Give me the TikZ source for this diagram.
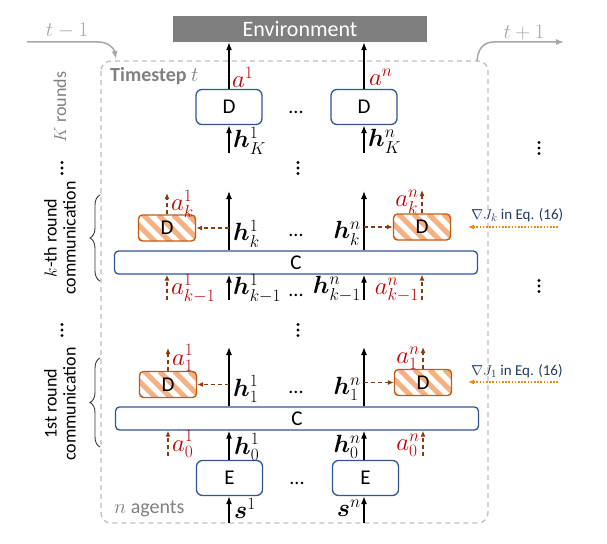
\documentclass[tikz,border=0pt]{standalone}
\usepackage{fontspec}
\setmainfont{Carlito}
\usepackage{amsmath,bm}
\usetikzlibrary{arrows.meta,decorations.pathreplacing}
\definecolor{boxblue}{HTML}{2F5597}
\definecolor{envgray}{HTML}{7F7F7F}
\definecolor{framegray}{HTML}{BFBFBF}
\definecolor{tgray}{HTML}{A6A6A6}
\definecolor{txtgray}{HTML}{808080}
\definecolor{brn}{HTML}{843C0C}
\definecolor{hbord}{HTML}{C55A11}
\definecolor{stripe}{HTML}{F4B183}
\definecolor{lblred}{HTML}{C00000}
\definecolor{orng}{HTML}{E38D1B}
\definecolor{eqblue}{HTML}{203864}
\begin{document}
\begin{tikzpicture}[x=1pt,y=-1pt,
  blk/.style={draw=boxblue, line width=1.3pt, rounded corners=6pt, minimum width=66pt, minimum height=35pt, inner sep=0pt, font=\fontsize{21}{24}\selectfont},
  hbox/.style={draw=hbord, line width=1.4pt, rounded corners=4pt, minimum width=57pt, minimum height=26pt, inner sep=0pt, font=\fontsize{21}{24}\selectfont,
    path picture={\foreach \i in {-40,-25,...,70} \draw[stripe, line width=5pt] ([xshift=\i pt]path picture bounding box.north west) -- ++(32,32);}},
  cbox/.style={draw=boxblue, line width=1.3pt, rounded corners=4pt, minimum width=363pt, minimum height=23pt, inner sep=0pt, font=\fontsize{21}{24}\selectfont},
  envbox/.style={fill=envgray, minimum width=254pt, minimum height=26pt, inner sep=0pt, text=white, font=\fontsize{22}{24}\selectfont},
  arr/.style={-{Latex[length=8pt,width=6pt]}, line width=1.3pt},
  darr/.style={-{Latex[length=6pt,width=5pt]}, line width=1.3pt, brn, dash pattern=on 4pt off 3pt},
  garr/.style={-{Latex[length=8pt,width=6pt]}, line width=1.5pt, tgray},
  oarr/.style={-{Latex[length=6pt,width=5pt]}, line width=1.6pt, orng, dash pattern=on 1.6pt off 1.6pt},
  lab/.style={inner sep=0pt, font=\fontsize{24}{26}\selectfont},
  rlab/.style={lab, text=lblred},
  dts/.style={inner sep=0pt, font=\fontsize{20}{24}\selectfont, anchor=base},
  vdot/.style={fill=black, inner sep=0pt, minimum size=3.2pt, circle},
  eqlab/.style={inner sep=0pt, text=eqblue, font=\fontsize{15}{18}\selectfont, anchor=west},
  rot/.style={rotate=90, align=center, inner sep=0pt, font=\fontsize{18}{19}\selectfont},
  brc/.style={decorate, decoration={brace, amplitude=10pt}, line width=0.9pt, black!80}
]
\useasboundingbox (0,0) rectangle (607,543);

% frame and time arrows
\draw[framegray, line width=1.3pt, dash pattern=on 5pt off 4pt, rounded corners=10pt] (101,61) rectangle (488,523);
\coordinate (tm0) at (27,42);
\coordinate (tm1) at (98,42);
\coordinate (tm2) at (116,59);
\draw[garr] (tm0) -- (tm1) .. controls (108,42) and (114,48) .. (tm2);
\node[text=tgray, font=\fontsize{20}{22}\selectfont, inner sep=0pt] (tmlab) at (67,31) {$t-1$};
\coordinate (tp0) at (477,61);
\coordinate (tp1) at (494,42);
\coordinate (tp2) at (564,42);
\draw[garr] (tp0) .. controls (478,48) and (484,42) .. (tp1) -- (tp2);
\node[text=tgray, font=\fontsize{20}{22}\selectfont, inner sep=0pt] (tplab) at (524,32) {$t+1$};
\node[text=txtgray, font=\fontsize{20}{22}\selectfont\bfseries, inner sep=0pt, anchor=west] (ts) at (110,76) {Timestep \mdseries$t$};
\node[text=txtgray, font=\fontsize{20}{22}\selectfont, inner sep=0pt, anchor=west] (nag) at (114,509) {$n$ agents};
\node[rot, text=txtgray] (kr) at (60,107) {$K$ rounds};

% environment and top decoders
\node[envbox] (env) at (300,29) {Environment};
\node[blk] (D1) at (229,107) {D};
\node[blk] (Dn) at (364,107) {D};
\draw[arr] (D1.north) -- (D1.north |- env.south);
\draw[arr] (Dn.north) -- (Dn.north |- env.south);
\node[rlab, anchor=west] (a1) at (232,77) {$a^1$};
\node[rlab, anchor=west] (an) at (369,77) {$a^n$};
\coordinate (hK1) at (229,153);
\coordinate (hKn) at (364,153);
\draw[arr] (hK1) -- (D1.south);
\draw[arr] (hKn) -- (Dn.south);
\node[lab, anchor=west] (lhK1) at (233,141) {$\bm{h}_K^1$};
\node[lab, anchor=west] (lhKn) at (368,141) {$\bm{h}_K^n$};
\node[dts] (d1) at (296,113) {...};

% vertical dots
\foreach \nm/\px/\py in {v1/62/168, v2/298/168, v3/539/148, v4/539/286, v5/62/330, v6/298/330} {
  \node[vdot] (\nm a) at (\px,\py-5.5) {};
  \node[vdot] (\nm b) at (\px,\py) {};
  \node[vdot] (\nm c) at (\px,\py+5.5) {};
}

% k-th round
\node[hbox] (Dk1) at (167,228) {D};
\node[hbox] (Dkn) at (422,227) {D};
\node[cbox] (Ck) at (296,262.5) {C};
\coordinate (k1top) at (229,191);
\coordinate (kntop) at (364,191);
\draw[arr] (Ck.north -| k1top) -- (k1top);
\draw[arr] (Ck.north -| kntop) -- (kntop);
\coordinate (k1mid) at (229,228);
\coordinate (knmid) at (364,227);
\draw[darr] (k1mid) -- (Dk1.east);
\draw[darr] (knmid) -- (Dkn.west);
\coordinate (ak1top) at (167,193);
\coordinate (akntop) at (422,190);
\draw[darr] (Dk1.north) -- (ak1top);
\draw[darr] (Dkn.north) -- (akntop);
\node[rlab, anchor=west] (lak1) at (171,204) {$a_k^1$};
\node[rlab, anchor=east] (lakn) at (419,202) {$a_k^n$};
\node[lab, anchor=west] (lhk1) at (233,234) {$\bm{h}_k^1$};
\node[lab, anchor=east] (lhkn) at (361,233) {$\bm{h}_k^n$};
\node[dts] (d2) at (296,236) {...};
\coordinate (bk1) at (229,300);
\coordinate (bkn) at (364,300);
\coordinate (bak1) at (167,300);
\coordinate (bakn) at (422,300);
\draw[arr] (bk1) -- (bk1 |- Ck.south);
\draw[arr] (bkn) -- (bkn |- Ck.south);
\draw[darr] (bak1) -- (bak1 |- Ck.south);
\draw[darr] (bakn) -- (bakn |- Ck.south);
\node[rlab, anchor=west] (lakm1) at (171,289) {$a_{k-1}^1$};
\node[lab, anchor=west] (lhkm1) at (233,289) {$\bm{h}_{k-1}^1$};
\node[dts] (d3) at (296,296) {...};
\node[lab, anchor=east] (lhkmn) at (361,289) {$\bm{h}_{k-1}^n$};
\node[rlab, anchor=east] (lakmn) at (419,290) {$a_{k-1}^n$};
\coordinate (gk0) at (558,227);
\coordinate (gk1) at (468,227);
\draw[oarr] (gk0) -- (gk1);
\node[eqlab] (eqk) at (471,215) {$\nabla J_k$ in Eq. (16)};
\draw[brc] (100,281) -- (100,195);
\node[rot] (krc) at (60,238) {$k$-th round\\communication};

% 1st round
\node[hbox] (Dl1) at (168,384.5) {D};
\node[hbox] (Dln) at (423,382.5) {D};
\node[cbox] (Cl) at (297,418.5) {C};
\coordinate (l1top) at (229,347);
\coordinate (lntop) at (364,347);
\draw[arr] (Cl.north -| l1top) -- (l1top);
\draw[arr] (Cl.north -| lntop) -- (lntop);
\coordinate (l1mid) at (229,384.5);
\coordinate (lnmid) at (364,382.5);
\draw[darr] (l1mid) -- (Dl1.east);
\draw[darr] (lnmid) -- (Dln.west);
\coordinate (al1top) at (168,348);
\coordinate (alntop) at (423,347);
\draw[darr] (Dl1.north) -- (al1top);
\draw[darr] (Dln.north) -- (alntop);
\node[rlab, anchor=west] (lal1) at (172,358) {$a_1^1$};
\node[rlab, anchor=east] (laln) at (420,358) {$a_1^n$};
\node[lab, anchor=west] (lhl1) at (233,389) {$\bm{h}_1^1$};
\node[lab, anchor=east] (lhln) at (361,389) {$\bm{h}_1^n$};
\node[dts] (d4) at (296,393) {...};
\node[blk] (E1) at (229.5,478) {E};
\node[blk] (En) at (365.5,478) {E};
\draw[arr] (E1.north -| l1top) -- (Cl.south -| l1top);
\draw[arr] (En.north -| lntop) -- (Cl.south -| lntop);
\coordinate (a01) at (168,456);
\coordinate (a0n) at (423,456);
\draw[darr] (a01) -- (a01 |- Cl.south);
\draw[darr] (a0n) -- (a0n |- Cl.south);
\node[rlab, anchor=west] (la01) at (172,444) {$a_0^1$};
\node[rlab, anchor=east] (la0n) at (420,445) {$a_0^n$};
\node[lab, anchor=west] (lh01) at (234,447) {$\bm{h}_0^1$};
\node[lab, anchor=east] (lh0n) at (361,447) {$\bm{h}_0^n$};
\node[dts] (d5) at (297,484) {...};
\coordinate (s1) at (229,523);
\coordinate (sn) at (364,523);
\draw[arr] (s1) -- (s1 |- E1.south);
\draw[arr] (sn) -- (sn |- En.south);
\node[lab, anchor=west] (ls1) at (234,508) {$\bm{s}^1$};
\node[lab, anchor=east] (lsn) at (361,508) {$\bm{s}^n$};
\coordinate (gl0) at (558,382);
\coordinate (gl1) at (468,382);
\draw[oarr] (gl0) -- (gl1);
\node[eqlab] (eql) at (471,371) {$\nabla J_1$ in Eq. (16)};
\draw[brc] (100,447) -- (100,358);
\node[rot] (lrc) at (60,404) {1st round\\communication};
\end{tikzpicture}
\end{document}
